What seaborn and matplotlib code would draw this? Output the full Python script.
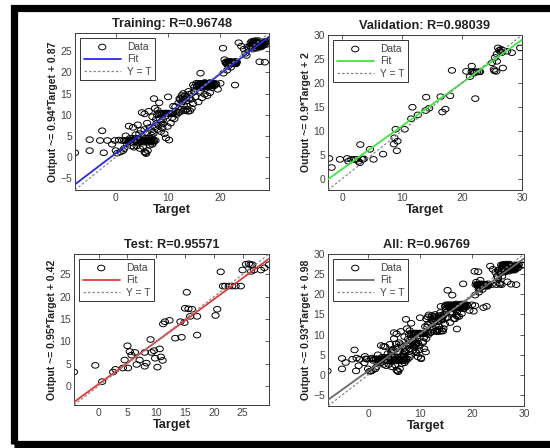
import numpy as np
import pandas as pd
import seaborn as sns
import matplotlib
matplotlib.use("Agg")
import matplotlib.pyplot as plt
from matplotlib.path import Path
from matplotlib.patches import Rectangle

# ---------------- data ----------------
train_target = [
    -7.8, -5.0, -5.0, -2.6, -2.3, -3.0, -1.6, -0.7, -0.2, 0.3, 0.9, 0.6, 1.2, 1.6, 1.9, 2.5, 3.3, 4.2, 3.0, 4.6, 0.0, 1.4,
    1.6, 1.9, 2.2, 2.5, 2.8, 3.1, 3.4, 3.7, 4.0, 4.3, 4.6, 4.9, 5.2, 5.5, 5.8, 6.1, 6.4, 6.7, 7.0, 7.3, 7.6,
    2.4, 3.0, 3.6, 4.2, 4.8, 5.4, 6.0, 6.6, 7.2,
    2.7, 3.3, 3.9, 4.5, 5.1, 5.7, 6.3, 6.9,
    5.5, 5.8, 6.1, 5.2, 4.0, 6.5, 3.5, 5.7, 7.0, 2.2,
    5.0, 5.5, 6.0, 6.5, 7.0, 4.5, 6.0, 5.5, 3.8, 4.8, 6.8,
    7.2, 7.5, 7.8, 8.0, 8.2, 8.5, 8.8, 9.0, 9.2, 9.5, 9.8, 10.0, 10.3, 10.6, 11.0, 8.3, 7.9, 8.6, 9.3, 9.6,
    10.2, 9.0, 8.0, 7.0, 7.5, 10.5, 11.2, 11.6, 12.0, 12.5, 13.3, 13.8, 14.2, 14.5, 11.0, 12.0, 12.3, 12.8,
    13.2, 13.5, 14.0, 14.5, 15.0, 15.2, 14.8, 13.0, 7.3, 8.3, 10.0, 6.3, 8.7, 9.4, 7.7, 8.9, 10.8, 11.4,
    12.7, 13.7, 14.3, 9.9,
    15.5, 15.8, 16.1, 16.4, 16.7, 17.0, 17.3, 17.6, 17.9, 18.2, 18.5, 18.8, 19.2, 16.0, 16.6, 17.2, 17.8, 18.4,
    16.2, 17.0, 17.5, 18.0, 16.5, 15.8, 16.2, 20.0, 19.5, 15.0, 14.8, 18.0, 17.0,
    21.0, 21.3, 21.6, 21.9, 22.2, 22.5, 22.8, 23.1, 21.2, 21.8, 22.4, 23.0, 21.5, 22.0, 21.3, 20.6, 20.5, 22.8,
    23.0, 20.8,
    25.5, 25.8, 26.0, 26.3, 26.5, 26.8, 27.0, 27.3, 27.6, 27.9, 28.2, 28.5, 28.8, 26.2, 26.6, 27.0, 27.4, 27.8,
    28.1, 26.0, 26.6, 27.2, 25.2, 24.5, 23.5, 24.0, 27.5, 28.5, 29.0, 25.0, 24.8,
]
train_output = [
    1.0, 1.5, 4.1, 6.2, 1.0, 3.9, 3.9, 3.0, 3.9, 0.9, 1.2, 4.0, 3.9, 2.0, 5.0, 7.3, 7.0, 7.6, 2.6, 2.0, 1.5, 1.5,
    3.9, 3.9, 3.9, 3.9, 3.9, 3.9, 3.9, 3.9, 3.9, 3.9, 3.9, 3.9, 3.9, 3.9, 3.9, 3.9, 3.9, 3.9, 3.9, 3.9, 3.9,
    3.5, 3.5, 3.5, 3.5, 3.5, 3.5, 3.5, 3.5, 3.5,
    4.4, 4.4, 4.4, 4.4, 4.4, 4.4, 4.4, 4.4,
    1.2, 0.8, 1.5, 2.5, 2.6, 2.8, 2.3, 1.0, 3.0, 3.0,
    10.5, 10.2, 8.0, 7.0, 6.0, 5.5, 5.8, 6.5, 5.3, 6.3, 5.2,
    5.5, 7.2, 8.0, 6.5, 7.5, 9.0, 10.3, 7.8, 10.2, 10.4, 10.3, 10.4, 10.2, 10.3, 10.4, 10.4, 10.0, 6.0, 5.5, 4.5,
    4.0, 8.8, 11.0, 9.5, 11.5, 8.0, 9.0, 10.0, 10.5, 11.3, 11.0, 10.8, 10.9, 11.5, 12.0, 12.8, 13.5, 14.0,
    14.5, 13.2, 14.8, 15.0, 15.5, 14.2, 12.6, 12.2, 13.8, 12.8, 14.2, 10.8, 8.3, 9.6, 8.9, 6.9, 9.3, 11.9,
    13.0, 12.0, 13.6, 7.2,
    16.8, 17.1, 17.1, 17.1, 17.1, 17.1, 17.1, 17.1, 17.1, 17.1, 17.1, 17.1, 17.2, 16.4, 16.3, 16.6, 16.6, 16.4,
    15.5, 14.8, 14.5, 15.2, 14.0, 13.0, 19.8, 17.4, 16.0, 16.5, 17.0, 17.6, 17.6,
    22.3, 22.3, 22.3, 22.3, 22.3, 22.3, 22.3, 22.3, 22.0, 22.6, 22.0, 22.6, 21.5, 21.2, 20.5, 19.8, 25.7, 17.0,
    22.0, 23.0,
    25.8, 26.2, 26.5, 26.8, 27.2, 27.0, 26.5, 27.2, 26.8, 27.2, 27.0, 27.3, 27.1, 25.5, 25.8, 25.7, 26.0, 26.0,
    26.3, 27.3, 27.5, 27.5, 26.0, 25.5, 27.0, 26.2, 22.5, 22.4, 27.3, 24.0, 24.5,
]
# extra points in the densest training clusters
train_target_dense = [
    15.4, 15.8, 16.2, 16.6, 17.0, 17.4, 17.8, 18.2, 18.6, 19.0,
    15.6, 16.0, 16.4, 16.8, 17.2, 17.6, 18.0, 18.4, 18.8,
    21.1, 21.5, 21.9, 22.3, 22.7, 23.1, 21.3, 21.7, 22.1, 22.5, 22.9,
    26.0, 26.4, 26.8, 27.2, 27.6, 28.0, 28.4, 28.8, 25.8, 26.2, 26.6, 27.0, 27.4, 27.8, 28.2, 28.6,
    26.1, 26.5, 26.9, 27.3, 27.7,
    8.5, 8.9, 9.3, 9.7, 10.1, 10.5, 10.9,
    12.2, 12.6, 13.1, 13.6, 14.1, 12.9, 13.9, 11.5, 12.2, 12.9, 13.6,
]
train_output_dense = [
    17.4, 17.4, 17.4, 17.4, 17.4, 17.4, 17.4, 17.4, 17.4, 17.4,
    16.8, 16.8, 16.8, 16.8, 16.8, 16.8, 16.8, 16.8, 16.8,
    22.5, 22.5, 22.5, 22.5, 22.5, 22.5, 22.1, 22.1, 22.1, 22.1, 22.1,
    26.6, 26.6, 26.6, 26.6, 26.6, 26.6, 26.6, 26.6, 27.0, 27.0, 27.0, 27.0, 27.0, 27.0, 27.0, 27.0,
    26.2, 26.2, 26.2, 26.2, 26.2,
    10.3, 10.3, 10.3, 10.3, 10.3, 10.3, 10.3,
    13.8, 14.5, 13.6, 14.2, 13.9, 15.0, 15.5, 10.8, 10.6, 10.9, 11.3,
]

val_target = [
    -2.2, -1.8, -0.4, 0.8, 1.0, 1.5, 2.0, 2.3, 2.7, 2.9, 3.2, 3.4, 3.6, 3.0, 4.6, 5.2, 6.8, 8.6, 8.7, 8.9,
    9.2, 9.1, 10.4, 11.5, 11.7, 12.6, 13.9, 14.0, 14.5, 16.4, 16.7, 17.2, 18.0, 18.3, 20.7, 21.3, 21.6, 21.6,
    21.9, 22.2, 22.5, 22.8, 22.0, 22.2, 23.0, 25.0, 25.4, 25.7, 25.5, 25.8, 26.0, 26.2, 26.4, 26.6, 26.8, 26.5,
    26.8, 27.5, 28.3, 29.7, 25.8, 25.3,
]
val_output = [
    4.2, 2.3, 4.0, 4.2, 3.6, 4.0, 4.0, 4.0, 3.6, 3.3, 4.1, 4.0, 4.1, 7.1, 6.1, 4.0, 5.1, 7.2, 8.5, 10.3,
    7.8, 5.8, 10.3, 12.5, 14.9, 13.3, 14.2, 17.0, 14.7, 17.1, 13.9, 14.5, 17.3, 22.6, 22.4, 21.3, 23.5, 22.3,
    22.3, 22.3, 22.3, 22.3, 22.0, 16.7, 22.3, 24.2, 22.5, 22.4, 25.3, 26.0, 27.3, 26.8, 26.5, 26.3, 26.8, 27.0,
    23.1, 26.6, 26.3, 27.3, 24.5, 22.8,
]

test_target = [
    -4.3, -0.6, 0.6, 2.5, 2.9, 4.2, 4.5, 5.0, 5.4, 5.1, 5.7, 6.3, 6.6, 7.1, 8.0, 8.0, 8.3, 9.0, 9.2, 9.6,
    9.8, 10.2, 10.6, 10.8, 11.1, 11.2, 11.5, 12.3, 13.3, 14.2, 14.4, 14.9, 15.3, 15.0, 15.6, 16.2, 15.9, 17.1,
    17.1, 20.3, 20.6, 21.2, 21.6, 22.0, 22.6, 23.2, 23.8, 24.7, 25.0, 25.6, 26.1, 26.4, 26.7, 27.0, 28.2, 29.6,
    28.8, 26.5,
]
test_output = [
    3.1, 4.6, 0.95, 3.1, 3.7, 4.0, 5.8, 9.0, 7.7, 4.0, 6.9, 7.5, 4.8, 5.8, 7.5, 4.4, 5.1, 10.4, 7.5, 7.9,
    6.2, 4.2, 8.3, 6.5, 5.7, 13.9, 14.4, 14.7, 10.7, 14.4, 10.9, 14.2, 21.0, 17.4, 17.3, 17.2, 15.6, 15.6,
    11.4, 15.8, 17.2, 25.6, 22.4, 22.4, 22.4, 22.4, 22.4, 22.4, 26.0, 27.3, 27.4, 27.2, 27.2, 26.0, 26.0, 27.2,
    26.5, 25.7,
]

titles = ["Training: R=0.96748", "Validation: R=0.98039", "Test: R=0.95571", "All: R=0.96769"]
fit_slopes = [0.94, 0.9, 0.95, 0.93]
fit_intercepts = [0.87, 2.0, 0.42, 0.98]
ylabels = ["Output ~= 0.94*Target + 0.87", "Output ~= 0.9*Target + 2",
           "Output ~= 0.95*Target + 0.42", "Output ~= 0.93*Target + 0.98"]
axis_limits = [(-7.8, 29.3), (-2.4, 30.0), (-4.3, 29.6), (-7.7, 30.0)]
xticks_list = [[0, 10, 20], [0, 10, 20, 30], [0, 5, 10, 15, 20, 25], [0, 10, 20, 30]]
yticks_list = [[-5, 0, 5, 10, 15, 20, 25], [0, 5, 10, 15, 20, 25, 30],
               [0, 5, 10, 15, 20, 25], [-5, 0, 5, 10, 15, 20, 25, 30]]
fit_colors = ["#2a2ae0", "#3ee83e", "#e03a3a", "#6a6a6a"]

train_t = train_target + train_target_dense
train_o = train_output + train_output_dense
all_target = train_t + val_target + test_target
all_output = train_o + val_output + test_output
datasets = [(train_t, train_o), (val_target, val_output),
            (test_target, test_output), (all_target, all_output)]

# ---------------- style ----------------
sns.set_theme(style="white")
plt.rcParams["font.family"] = ["Liberation Sans", "DejaVu Sans"]

W, H = 550, 448
fig = plt.figure(figsize=(W / 100, H / 100), dpi=100)
fig.patch.set_facecolor("white")

# black frame
fig.patches.append(Rectangle((13.5 / W, 1 - 443.5 / H), 1.2, (443.5 - 8) / H, fill=False,
                             lw=5.2, ec="black", transform=fig.transFigure, figure=fig))

positions_px = [(75, 33, 269, 190), (328, 35, 522, 190), (74, 254, 269, 405), (328, 254, 524, 406)]

# ellipse marker (circles appear slightly flattened in the reference)
theta = np.linspace(0, 2 * np.pi, 40)
ell = Path(np.column_stack([np.cos(theta), 0.78 * np.sin(theta)]), closed=True)

for i in range(4):
    l, t, r, b = positions_px[i]
    ax = fig.add_axes([l / W, 1 - b / H, (r - l) / W, (b - t) / H])
    tx, ty = datasets[i]
    lo, hi = axis_limits[i]
    df = pd.DataFrame({"Target": tx, "Output": ty})
    sns.scatterplot(data=df, x="Target", y="Output", ax=ax, marker=ell, s=27,
                    facecolors="none", edgecolor="black", linewidth=0.7, label="Data", zorder=2)
    lims = np.array([lo, hi])
    fit_df = pd.DataFrame({"x": lims, "y": fit_slopes[i] * lims + fit_intercepts[i]})
    sns.lineplot(data=fit_df, x="x", y="y", ax=ax, color=fit_colors[i], lw=1.3, label="Fit", zorder=3)
    yt_df = pd.DataFrame({"x": lims, "y": lims})
    sns.lineplot(data=yt_df, x="x", y="y", ax=ax, color="#8a8a8a", lw=0.9,
                 linestyle=(0, (2, 1.6)), label="Y = T", zorder=3)
    ax.set_xlim(lo, hi)
    ax.set_ylim(lo, hi)
    ax.set_xticks(xticks_list[i])
    ax.set_yticks(yticks_list[i])
    ax.tick_params(direction="in", length=3, width=0.6, colors="#444444", labelsize=7.5,
                   top=True, right=True, pad=2)
    for sp in ax.spines.values():
        sp.set_color("#3a3a3a")
        sp.set_linewidth(0.7)
    ax.set_title(titles[i], fontsize=9.2, fontweight="bold", color="#222222", pad=4)
    ax.set_xlabel("Target", fontsize=9.2, fontweight="bold", color="#222222", labelpad=1)
    ax.set_ylabel(ylabels[i], fontsize=7.6, fontweight="bold", color="#222222", labelpad=2)
    leg = ax.legend(loc="upper left", fontsize=7.4, handlelength=3.6, labelspacing=0.25,
                    borderpad=0.35, handletextpad=0.6, fancybox=False, framealpha=1,
                    edgecolor="#333333", borderaxespad=0.5, scatterpoints=1)
    leg.get_frame().set_linewidth(0.7)
    for txt in leg.get_texts():
        txt.set_color("#444444")

fig.savefig("out.png", dpi=100, facecolor="white")
